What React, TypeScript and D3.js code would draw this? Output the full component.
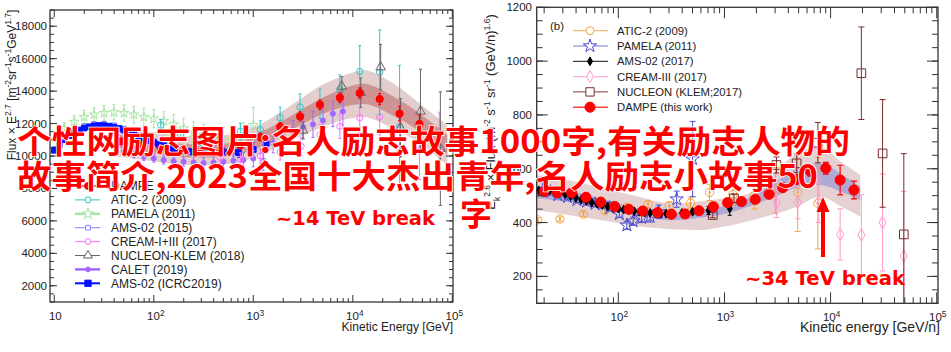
import React from 'react';
import * as d3 from 'd3';

type Pt = [number, number, number]; // [log10 E, flux, error]

// ---------- panel (a): proton flux x E^2.7 ----------
const dampeA: Pt[] = [
  [1.67, 10900, 150], [1.87, 10650, 150], [2.07, 10450, 160], [2.27, 10300, 170], [2.47, 10250, 180],
  [2.67, 10350, 200], [2.87, 10650, 220], [3.07, 11170, 240], [3.27, 11800, 260], [3.47, 12440, 280],
  [3.67, 13160, 300], [3.87, 13590, 300], [4.07, 13880, 320], [4.27, 13510, 340], [4.47, 12610, 450],
  [4.67, 11970, 550],
];
const aticA: Pt[] = [
  [2.07, 11900, 350], [2.27, 11300, 350], [2.47, 11000, 400], [2.67, 11100, 450], [2.87, 11520, 500],
  [3.07, 11620, 550], [3.27, 12360, 650], [3.47, 13020, 800], [3.67, 13220, 900], [3.87, 14100, 900],
  [4.07, 15210, 1600], [4.27, 15170, 2600], [4.47, 11790, 3800],
];
const pamelaA: Pt[] = [
  [1.1, 11700, 350], [1.2, 12100, 380], [1.3, 12400, 400], [1.4, 12550, 420], [1.5, 12650, 450],
  [1.6, 12700, 470], [1.7, 12650, 500], [1.8, 12550, 520], [1.9, 12400, 540], [2.0, 12300, 560],
  [2.1, 12150, 580], [2.2, 11950, 600], [2.3, 11700, 620], [2.4, 11450, 650], [2.5, 11250, 680],
  [2.6, 11100, 720], [2.7, 11000, 780], [2.8, 10950, 850], [2.9, 11100, 950], [3.0, 11900, 1100],
];
const ams2015A: Pt[] = [
  [1.0, 10450, 60], [1.1, 11100, 60], [1.2, 11550, 60], [1.3, 11850, 60], [1.4, 11980, 60],
  [1.5, 11990, 60], [1.6, 11900, 60], [1.7, 11700, 60], [1.8, 11450, 70], [1.9, 11180, 70],
  [2.0, 10930, 80], [2.1, 10720, 90], [2.2, 10550, 100], [2.3, 10420, 120], [2.4, 10350, 140],
  [2.5, 10320, 170], [2.6, 10300, 200], [2.8, 10250, 300], [3.1, 9700, 600],
];
const creamA: Pt[] = [
  [2.67, 9900, 350], [2.87, 9800, 400], [3.07, 10000, 450], [3.27, 10250, 500], [3.48, 10600, 550],
  [3.67, 11300, 650], [3.87, 11830, 750], [4.07, 12360, 900], [4.27, 12400, 1100], [4.47, 10450, 1400],
  [4.67, 10350, 1800], [4.87, 10300, 2400],
];
const nucleonA: Pt[] = [
  [3.5, 11580, 500], [3.89, 14290, 600], [4.08, 13900, 900], [4.28, 15480, 1400], [4.48, 11740, 1800],
  [4.68, 12750, 2600], [4.88, 10450, 3500],
];
const caletA: Pt[] = [
  [1.7, 10300, 200], [1.8, 10100, 200], [1.9, 9950, 220], [2.0, 9850, 230], [2.1, 9750, 250],
  [2.2, 9680, 260], [2.3, 9650, 280], [2.4, 9600, 300], [2.5, 9570, 320], [2.6, 9600, 350],
  [2.7, 9650, 380], [2.8, 9700, 420], [2.9, 9750, 460], [3.0, 9840, 500], [3.1, 10300, 550],
  [3.2, 10800, 600], [3.3, 11170, 650], [3.4, 11480, 700], [3.5, 11790, 750], [3.6, 11950, 800],
  [3.7, 12190, 800], [3.8, 12610, 800], [3.9, 12750, 850],
];
const amsIcrcA: Pt[] = [
  [1.0, 10350, 60], [1.05, 10700, 60], [1.1, 11000, 60], [1.15, 11250, 60], [1.2, 11450, 60],
  [1.25, 11600, 60], [1.3, 11720, 60], [1.35, 11800, 60], [1.4, 11860, 60], [1.45, 11880, 60],
  [1.5, 11870, 60], [1.55, 11840, 60], [1.6, 11780, 60], [1.65, 11700, 60], [1.7, 11600, 60],
  [1.75, 11480, 60], [1.8, 11350, 60], [1.85, 11220, 60], [1.9, 11080, 60], [1.95, 10950, 60],
  [2.0, 10830, 70], [2.05, 10720, 70], [2.1, 10620, 70], [2.15, 10530, 80], [2.2, 10450, 80],
  [2.25, 10380, 90], [2.3, 10320, 100], [2.35, 10280, 110], [2.4, 10250, 120], [2.45, 10230, 130],
  [2.5, 10220, 150], [2.55, 10220, 160], [2.6, 10230, 180], [2.7, 10250, 230], [2.85, 10210, 300],
  [3.0, 10400, 420], [3.13, 10760, 560],
];
// DAMPE band (a): [log10 E, outer lo, outer hi, inner lo, inner hi]
const bandA: [number, number, number, number, number][] = [
  [1.6, 10000, 11900, 10550, 11350], [1.9, 9750, 11550, 10250, 11050], [2.2, 9500, 11300, 10000, 10800],
  [2.5, 9400, 11200, 9900, 10700], [2.8, 9550, 11350, 10050, 10850], [3.1, 10150, 12050, 10650, 11550],
  [3.4, 11000, 13200, 11650, 12550], [3.7, 11800, 14400, 12600, 13600], [4.0, 12350, 15150, 13150, 14350],
  [4.1, 12400, 15300, 13200, 14450], [4.4, 11700, 14500, 12500, 13700], [4.7, 10700, 13100, 11400, 12500],
  [4.95, 9400, 11900, 10100, 11300],
];
const legendA = ['DAMPE', 'ATIC-2 (2009)', 'PAMELA (2011)', 'AMS-02 (2015)', 'CREAM-I+III (2017)',
  'NUCLEON-KLEM (2018)', 'CALET (2019)', 'AMS-02 (ICRC2019)'];
const yTicksA = [2000, 4000, 6000, 8000, 10000, 12000, 14000, 16000, 18000];

// ---------- panel (b): helium flux x Ek^2.6 ----------
const dampeB: Pt[] = [
  [1.30, 515, 3], [1.425, 511, 3], [1.56, 511, 3], [1.695, 494, 3], [1.834, 476, 3], [1.966, 460, 3],
  [2.10, 449, 3], [2.23, 443, 3], [2.37, 437, 3], [2.50, 431, 3], [2.63, 432, 4], [2.76, 444, 4],
  [2.895, 459, 5], [3.03, 474, 6], [3.16, 478, 7], [3.29, 486, 8], [3.42, 505, 10], [3.55, 530, 12],
  [3.68, 560, 14], [3.81, 590, 17], [3.955, 602, 22], [4.09, 558, 55], [4.22, 521, 33],
];
const aticB: Pt[] = [
  [1.24, 410, 8], [1.45, 413, 8], [1.67, 431, 9], [1.875, 444, 10], [2.08, 457, 10], [2.28, 468, 12],
  [2.48, 462, 15], [2.68, 472, 20], [2.86, 512, 30], [3.08, 505, 40], [3.28, 500, 50], [3.48, 520, 85],
  [3.69, 512, 145], [3.88, 472, 170],
];
const pamelaB: Pt[] = [
  [1.29, 521, 8], [1.36, 515, 8], [1.43, 502, 8], [1.52, 495, 8], [1.61, 484, 9], [1.70, 478, 9],
  [1.78, 470, 10], [1.85, 468, 10], [1.92, 455, 11], [2.01, 432, 12], [2.08, 390, 15], [2.14, 405, 15],
  [2.22, 418, 18], [2.30, 422, 20], [2.38, 440, 25], [2.55, 487, 30], [2.70, 636, 140],
];
const amsB: Pt[] = [
  [1.25, 520, 3], [1.3, 520, 3], [1.35, 518, 3], [1.4, 515, 3], [1.45, 510, 3], [1.5, 505, 3],
  [1.55, 498, 3], [1.6, 492, 3], [1.65, 485, 3], [1.7, 480, 3], [1.75, 475, 3], [1.8, 470, 3],
  [1.85, 465, 3], [1.9, 460, 3], [1.95, 455, 3], [2.0, 452, 3], [2.05, 448, 3], [2.1, 445, 3],
  [2.15, 442, 4], [2.2, 440, 4], [2.25, 438, 4], [2.3, 436, 4], [2.35, 434, 5], [2.4, 433, 5],
  [2.45, 433, 5], [2.5, 433, 6], [2.6, 436, 7], [2.7, 440, 8], [2.85, 445, 15], [3.05, 452, 25],
];
const creamB: Pt[] = [
  [3.49, 474, 55], [3.69, 474, 60], [3.89, 480, 80], [4.09, 356, 95], [4.29, 354, 150],
  [4.49, 400, 180], [4.69, 276, 240],
];
const nucleonB: Pt[] = [
  [2.89, 428, 10], [3.09, 490, 15], [3.49, 614, 30], [3.68, 620, 35], [3.88, 697, 75],
  [4.29, 955, 172], [4.49, 657, 200], [4.69, 356, 300],
];
const bandB: [number, number, number, number, number][] = [
  [1.23, 447, 577, 490, 533], [1.5, 430, 560, 478, 520], [1.83, 410, 530, 455, 490],
  [2.2, 385, 495, 425, 452], [2.49, 375, 472, 409, 437], [2.77, 372, 478, 418, 448],
  [3.0, 385, 490, 432, 462], [3.27, 410, 515, 465, 500], [3.5, 435, 600, 500, 555],
  [3.68, 459, 657, 530, 600], [3.9, 496, 682, 540, 620], [4.1, 460, 625, 515, 580],
  [4.28, 422, 577, 484, 533],
];
const legendB = ['ATIC-2 (2009)', 'PAMELA (2011)', 'AMS-02 (2017)', 'CREAM-III (2017)',
  'NUCLEON (KLEM;2017)', 'DAMPE (this work)'];
const yTicksB = [200, 400, 600, 800, 1000, 1200];

const line1 = '个性网励志图片:名人励志故事1000字,有关励志人物的';
const line2 = '故事简介,2023全国十大杰出青年,名人励志小故事50';
const line3 = '字';

const xA = d3.scaleLog().domain([10 ** 0.957, 10 ** 5.007]).range([50, 453]);
const yA = d3.scaleLinear().domain([1000, 19000]).range([302, 10]);
const xB = d3.scaleLog().domain([10 ** 1.231, 10 ** 5.012]).range([536.7, 938]);
const yB = d3.scaleLinear().domain([100, 1200]).range([303.3, 7.3]);

const SANS = 'Liberation Sans, Arial, sans-serif';

function Series({ data, x, y, color, shape, size, filled = false, cap = 2, lw = 1, dot = false, sw = 1 }: any) {
  const d = d3.symbol().type(shape).size(size)() as string;
  return (
    <g>
      {data.map(([le, v, e]: Pt, i: number) => {
        const cx = x(10 ** le), cy = y(v);
        return (
          <g key={i}>
            {e > 0 && (
              <g stroke={color} strokeWidth={lw}>
                <line x1={cx} x2={cx} y1={y(v - e)} y2={y(v + e)} />
                <line x1={cx - cap} x2={cx + cap} y1={y(v + e)} y2={y(v + e)} />
                <line x1={cx - cap} x2={cx + cap} y1={y(v - e)} y2={y(v - e)} />
              </g>
            )}
            <path d={d} transform={`translate(${cx},${cy})`} fill={filled ? color : 'none'} stroke={color} strokeWidth={sw} />
            {dot && <circle cx={cx} cy={cy} r={1.2} fill={color} />}
          </g>
        );
      })}
    </g>
  );
}

function Band({ data, x, y, fillOuter, fillInner }: any) {
  const outer = d3.area<any>().x((d) => x(10 ** d[0])).y0((d) => y(d[1])).y1((d) => y(d[2])).curve(d3.curveMonotoneX);
  const inner = d3.area<any>().x((d) => x(10 ** d[0])).y0((d) => y(d[3])).y1((d) => y(d[4])).curve(d3.curveMonotoneX);
  return (
    <g>
      <path d={outer(data) as string} fill={fillOuter} />
      <path d={inner(data) as string} fill={fillInner} />
    </g>
  );
}

function Frame({ x, y, yMajor, yMinor, major, minor, fs, labelDx = 0, labelY, yLabelX }: any) {
  const [x0, x1] = x.range();
  const [y0, y1] = y.range();
  const xt = x.ticks();
  return (
    <g stroke="#333" strokeWidth={1}>
      <rect x={x0} y={y1} width={x1 - x0} height={y0 - y1} fill="none" strokeWidth={1.3} />
      {xt.map((t: number, i: number) => {
        const isMaj = Math.abs(Math.log10(t) - Math.round(Math.log10(t))) < 1e-6;
        const L = isMaj ? major : minor;
        const px = x(t);
        return (
          <g key={i}>
            <line x1={px} x2={px} y1={y0} y2={y0 - L} />
            <line x1={px} x2={px} y1={y1} y2={y1 + L} />
          </g>
        );
      })}
      {yMinor.map((t: number, i: number) => (
        <g key={'m' + i}>
          <line x1={x0} x2={x0 + minor} y1={y(t)} y2={y(t)} />
          <line x1={x1} x2={x1 - minor} y1={y(t)} y2={y(t)} />
        </g>
      ))}
      {yMajor.map((t: number, i: number) => (
        <g key={'M' + i}>
          <line x1={x0} x2={x0 + major} y1={y(t)} y2={y(t)} />
          <line x1={x1} x2={x1 - major} y1={y(t)} y2={y(t)} />
          <text x={yLabelX} y={y(t) + 4} textAnchor="end" fontSize={fs} fill="#222" stroke="none" fontFamily={SANS}>{t}</text>
        </g>
      ))}
      {xt.filter((t: number) => Math.abs(Math.log10(t) - Math.round(Math.log10(t))) < 1e-6).map((t: number, i: number) => {
        const n = Math.round(Math.log10(t));
        return (
          <text key={'xl' + i} x={x(t) + (n === 1 ? 1 : labelDx)} y={labelY} textAnchor="middle" fontSize={fs} fill="#222" stroke="none" fontFamily={SANS}>
            10{n > 1 && <tspan fontSize={fs * 0.72} baselineShift="super">{n}</tspan>}
          </text>
        );
      })}
    </g>
  );
}

export default function App() {
  const symCircle = d3.symbolCircle, symSquare = d3.symbolSquare, symStar = d3.symbolStar;
  const symTri = d3.symbolTriangle, symDiamond = d3.symbolDiamond;

  const legA = [
    { c: '#ff0000', s: symCircle, f: true, z: 38, lw: 1.2 },
    { c: '#33c6c6', s: symCircle, f: false, z: 28, lw: 1 },
    { c: '#a6e3a6', s: symStar, f: false, z: 40, lw: 2.5 },
    { c: '#8080ff', s: symSquare, f: false, z: 22, lw: 1 },
    { c: '#ff70ff', s: symCircle, f: false, z: 26, lw: 1 },
    { c: '#666666', s: symTri, f: false, z: 34, lw: 1 },
    { c: '#a066ff', s: symCircle, f: true, z: 18, lw: 2.5 },
    { c: '#0010ff', s: symSquare, f: true, z: 40, lw: 2 },
  ];
  const legB = [
    { c: '#f5a445', s: symCircle, f: false, z: 50, lw: 1.2 },
    { c: '#4a4ad0', s: symStar, f: false, z: 55, lw: 1.2 },
    { c: '#000000', s: symDiamond, f: true, z: 22, lw: 1.2 },
    { c: '#ff99cc', s: symDiamond, f: false, z: 40, lw: 1.2 },
    { c: '#7a2c2c', s: symSquare, f: false, z: 70, lw: 1.2 },
    { c: '#ff0000', s: symCircle, f: true, z: 80, lw: 1.5 },
  ];

  return (
    <svg width={951} height={352} style={{ position: 'absolute', left: 0, top: 0, background: '#fff' }}>
      <defs>
        <clipPath id="clipA"><rect x={50} y={10} width={403} height={292} /></clipPath>
        <clipPath id="clipB"><rect x={536.7} y={7.3} width={401.3} height={296} /></clipPath>
      </defs>
      <rect width={951} height={352} fill="#fff" />

      {/* ---- panel (a) ---- */}
      <g clipPath="url(#clipA)">
        <Band data={bandA} x={xA} y={yA} fillOuter="rgba(190,135,135,0.42)" fillInner="rgba(180,80,80,0.45)" />
        <Series data={pamelaA} x={xA} y={yA} color="#a6e3a6" shape={symStar} size={30} cap={1.5} />
        <Series data={ams2015A} x={xA} y={yA} color="#8080ff" shape={symSquare} size={20} cap={1.5} />
        <Series data={amsIcrcA} x={xA} y={yA} color="#0010ff" shape={symSquare} size={32} filled cap={1.5} />
        <Series data={caletA} x={xA} y={yA} color="#a066ff" shape={symCircle} size={20} filled cap={1.5} />
        <Series data={creamA} x={xA} y={yA} color="#ff70ff" shape={symCircle} size={30} cap={1.5} />
        <Series data={aticA} x={xA} y={yA} color="#33c6c6" shape={symCircle} size={32} cap={1.5} />
        <Series data={nucleonA} x={xA} y={yA} color="#666666" shape={symTri} size={40} cap={1.5} />
        <Series data={dampeA} x={xA} y={yA} color="#ff0000" shape={symCircle} size={42} filled cap={1.5} lw={1.2} />
      </g>
      <Frame x={xA} y={yA} yMajor={yTicksA} yMinor={d3.range(1000, 19001, 500)} major={7} minor={4} fs={11.5} labelDx={2} labelY={319.5} yLabelX={47} />
      {legendA.map((name, i) => {
        const ly = 186 + i * 13.9;
        const m = legA[i];
        return (
          <g key={name}>
            <line x1={75} x2={100} y1={ly} y2={ly} stroke={m.c} strokeWidth={m.lw} />
            <path d={d3.symbol().type(m.s).size(m.z)() as string} transform={`translate(88,${ly})`} fill={m.f ? m.c : '#fff'} stroke={m.c} />
            <text x={111} y={ly + 4.2} fontSize={12} fontFamily={SANS} fill="#222">{name}</text>
          </g>
        );
      })}
      <text x={453} y={331} textAnchor="end" fontSize={12} fontFamily={SANS} fill="#222">Kinetic Energy [GeV]</text>
      <text transform="translate(16,85) rotate(-90)" textAnchor="middle" fontSize={12} fontFamily={SANS} fill="#222">
        Flux × E<tspan fontSize={8.5} baselineShift="super">2.7</tspan> [m<tspan fontSize={8.5} baselineShift="super">-2</tspan>sr<tspan fontSize={8.5} baselineShift="super">-1</tspan>s<tspan fontSize={8.5} baselineShift="super">-1</tspan>GeV<tspan fontSize={8.5} baselineShift="super">1.7</tspan>]
      </text>

      {/* ---- panel (b) ---- */}
      <g clipPath="url(#clipB)">
        <Band data={bandB} x={xB} y={yB} fillOuter="rgba(190,140,140,0.4)" fillInner="rgba(140,140,215,0.6)" />
        <Series data={aticB} x={xB} y={yB} color="#f5a445" shape={symCircle} size={55} cap={3} dot />
        <Series data={creamB} x={xB} y={yB} color="#ff99cc" shape={symDiamond} size={45} cap={3} />
        <Series data={nucleonB} x={xB} y={yB} color="#7a2c2c" shape={symSquare} size={75} cap={3} />
        <Series data={pamelaB} x={xB} y={yB} color="#4a4ad0" shape={symStar} size={55} cap={3} />
        <Series data={amsB} x={xB} y={yB} color="#000000" shape={symDiamond} size={22} filled cap={2} />
        <Series data={dampeB} x={xB} y={yB} color="#ff0000" shape={symCircle} size={80} filled cap={3} lw={1.2} />
      </g>
      <Frame x={xB} y={yB} yMajor={yTicksB} yMinor={d3.range(100, 1201, 50)} major={11} minor={6} fs={11.5} labelDx={1} labelY={321} yLabelX={532} />
      <text x={550} y={30} fontSize={11.5} fontFamily={SANS} fill="#222">(b)</text>
      {legendB.map((name, i) => {
        const ly = 30.7 + i * 15.3;
        const m = legB[i];
        return (
          <g key={name}>
            <line x1={573} x2={608} y1={ly} y2={ly} stroke={m.c} strokeWidth={m.lw} opacity={0.75} />
            <path d={d3.symbol().type(m.s).size(m.z)() as string} transform={`translate(590,${ly})`} fill={m.f ? m.c : '#fff'} stroke={m.c} />
            <text x={617} y={ly + 4} fontSize={11.3} fontFamily={SANS} fill="#222">{name}</text>
          </g>
        );
      })}
      <text x={940} y={331.5} textAnchor="end" fontSize={14} fontFamily={SANS} fill="#222">Kinetic energy [GeV/n]</text>
      <text transform="translate(495,112) rotate(-90)" textAnchor="middle" fontSize={13} fontFamily={SANS} fill="#222">
        E<tspan fontSize={8.5} baselineShift="sub">k</tspan><tspan fontSize={8.5} baselineShift="super">2.6</tspan> × Flux (m<tspan fontSize={8.5} baselineShift="super">-2</tspan> s<tspan fontSize={8.5} baselineShift="super">-1</tspan> sr<tspan fontSize={8.5} baselineShift="super">-1</tspan> (GeV/n)<tspan fontSize={8.5} baselineShift="super">1.6</tspan>)
      </text>

      {/* ---- annotations ---- */}
      <text x={276} y={224.5} textLength={159} lengthAdjust="spacingAndGlyphs" fontSize={19} fontWeight="bold" fontFamily="DejaVu Sans, sans-serif" fill="#ff0000">~14 TeV break</text>
      <text x={745} y={284.5} textLength={160} lengthAdjust="spacingAndGlyphs" fontSize={19} fontWeight="bold" fontFamily="DejaVu Sans, sans-serif" fill="#ff0000">~34 TeV break</text>
      <line x1={823} x2={823} y1={257} y2={208} stroke="#ff0000" strokeWidth={4} />
      <path d="M823,197 L816.5,212 L829.5,212 Z" fill="#ff0000" />

      {/* ---- overlay title text ---- */}
      <g fontFamily="Noto Sans CJK SC, sans-serif" fontWeight="bold" fontSize={32} fill="#ff0000" stroke="#fff" strokeWidth={1.5} paintOrder="stroke">
        <text x={17} y={153} textLength={833} lengthAdjust="spacingAndGlyphs">{line1}</text>
        <text x={17} y={188} textLength={801} lengthAdjust="spacingAndGlyphs">{line2}</text>
        <text x={460} y={226}>{line3}</text>
      </g>
    </svg>
  );
}
